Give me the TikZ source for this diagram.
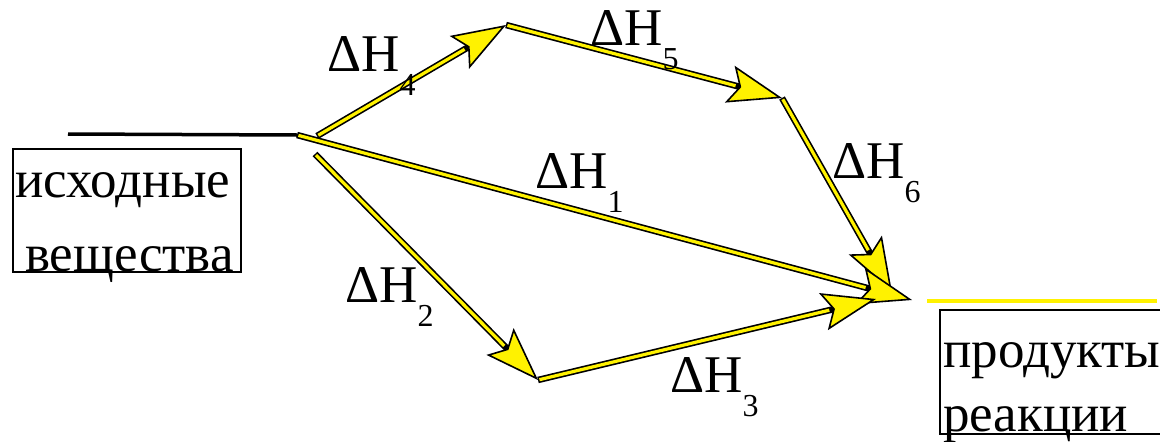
\documentclass[tikz,border=0pt]{standalone}
\usepackage{fontspec}
\setmainfont{Liberation Serif}
\usetikzlibrary{arrows.meta}
\newcommand{\dH}[1]{ΔH\raisebox{-24pt}{\fontsize{32}{32}\selectfont #1}}

\begin{document}
\begin{tikzpicture}[x=1pt,y=-1pt,
    every node/.style={font=\fontsize{53}{60}\selectfont, inner sep=0pt},
    yarrow/.style={draw=black, line width=6.5pt,
      -{Stealth[length=54pt,width=38pt,inset=10pt,fill=yellow,line width=1.6pt]},
      postaction={draw=yellow, line width=3.2pt, -, shorten <=1.5pt, shorten >=48pt}},
    lbl/.style={anchor=base west},
    box/.style={draw, line width=1.8pt, anchor=north west}]
  \useasboundingbox (0,0) rectangle (1160,442);
  % levels
  \coordinate (lineL) at (68,134);
  \coordinate (src) at (297,135);
  \coordinate (s4) at (317,136);
  \coordinate (s2) at (315,154);
  \coordinate (top) at (506,25);
  \coordinate (right) at (782,98);
  \coordinate (mid) at (538,380);
  \coordinate (prod) at (912,300);
  \coordinate (e6) at (892,292);
  \coordinate (e3) at (876,299);
  \coordinate (pL) at (927,301);
  \coordinate (pR) at (1157,301);
  \draw[line width=3.5pt] (lineL) -- (src);
  \draw[line width=4.5pt, yellow] (pL) -- (pR);
  % boxes
  \node[box, minimum width=228pt, minimum height=123pt] (srcbox) at (12,148) {};
  \node[lbl] (src1) at (15,197) {исходные};
  \node[lbl] (src2) at (25,271) {вещества};
  \node[box, minimum width=240pt, minimum height=124pt] (prodbox) at (939,309) {};
  \node[lbl] (prod1) at (943,367) {продукты};
  \node[lbl] (prod2) at (943,431) {реакции};
  % paths
  \draw[yarrow] (s4) -- (top);
  \draw[yarrow] (top) -- (right);
  \draw[yarrow] (right) -- (e6);
  \draw[yarrow] (src) -- (prod);
  \draw[yarrow] (s2) -- (mid);
  \draw[yarrow] (mid) -- (e3);
  % labels
  \node[lbl] (h4) at (327,71) {\dH{4}};
  \node[lbl] (h5) at (590,45) {\dH{5}};
  \node[lbl] (h6) at (832,178) {\dH{6}};
  \node[lbl] (h1) at (535,188) {\dH{1}};
  \node[lbl] (h2) at (345,302) {\dH{2}};
  \node[lbl] (h3) at (670,392) {\dH{3}};
\end{tikzpicture}
\end{document}
